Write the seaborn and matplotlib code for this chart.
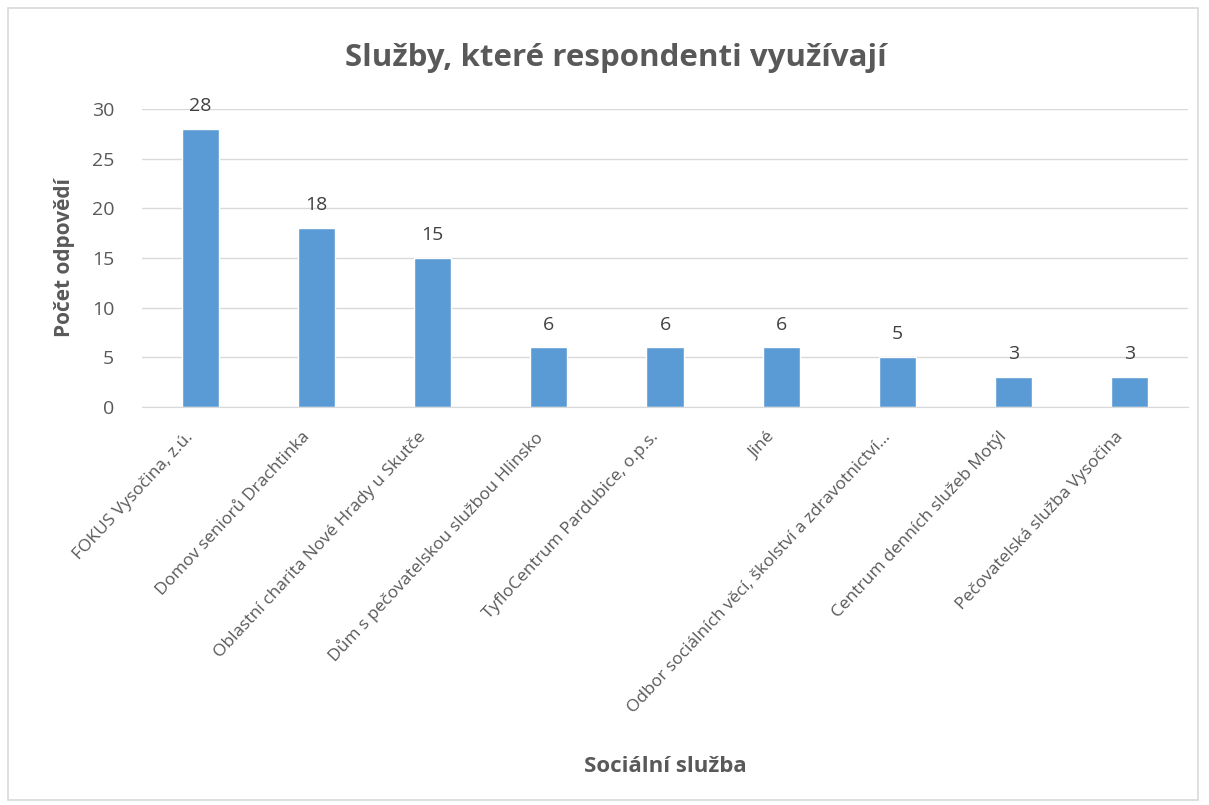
import pandas as pd
import matplotlib.pyplot as plt
import matplotlib.transforms as mtransforms
import seaborn as sns
from matplotlib.patches import Rectangle

# Data
sluzby = ['FOKUS Vysočina, z.ú.', 'Domov seniorů Drachtinka', 'Oblastní charita Nové Hrady u Skutče',
          'Dům s pečovatelskou službou Hlinsko', 'TyfloCentrum Pardubice, o.p.s.', 'Jiné',
          'Odbor sociálních věcí, školství a zdravotnictví...', 'Centrum denních služeb Motýl',
          'Pečovatelská služba Vysočina']
pocty = [28, 18, 15, 6, 6, 6, 5, 3, 3]

df = pd.DataFrame({'Služba': sluzby, 'Počet': pocty})

sns.set_style('white')
plt.rcParams['font.family'] = ['Open Sans', 'DejaVu Sans']
text_color = '#595959'
grid_color = '#D9D9D9'

fig = plt.figure(figsize=(12.09, 8.05), dpi=100)
ax = fig.add_axes([0.1175, 0.4944, 0.8651, 0.3702])

sns.barplot(data=df, x='Služba', y='Počet', color='#5B9BD5', width=0.32, saturation=1, ax=ax)

for c in ax.containers:
    ax.bar_label(c, fontsize=14, color='#404040', padding=10, clip_on=False)

ax.set_ylim(0, 30)
ax.set_yticks(range(0, 31, 5))
ax.yaxis.grid(True, color=grid_color, linewidth=1)
ax.set_axisbelow(True)
for s in ['top', 'right', 'left']:
    ax.spines[s].set_visible(False)
ax.spines['bottom'].set_color(grid_color)
ax.tick_params(axis='both', length=0, labelsize=14, labelcolor=text_color)
ax.tick_params(axis='y', pad=20)
ax.tick_params(axis='x', pad=10)

# posun popisků osy x trochu doleva a dolů
offset = mtransforms.ScaledTranslation(-0.15, -0.08, fig.dpi_scale_trans)
for lab in ax.get_xticklabels():
    lab.set_rotation(47)
    lab.set_ha('right')
    lab.set_rotation_mode('anchor')
    lab.set_fontsize(12.5)
    lab.set_transform(lab.get_transform() + offset)

ax.set_xlabel('Sociální služba', fontsize=16, fontweight='bold', color=text_color)
ax.set_ylabel('Počet odpovědí', fontsize=15, fontweight='bold', color=text_color, labelpad=12)
ax.xaxis.set_label_coords(0.5, -1.17)

fig.text(0.509, 0.928, 'Služby, které respondenti využívají', ha='center', va='center',
         fontsize=22.5, fontweight='bold', color=text_color)

fig.patches.append(Rectangle((8 / 1209, 5 / 805), 1190 / 1209, 792 / 805, transform=fig.transFigure,
                             fill=False, edgecolor=grid_color, linewidth=1.2))

plt.savefig('out.png', dpi=100)
